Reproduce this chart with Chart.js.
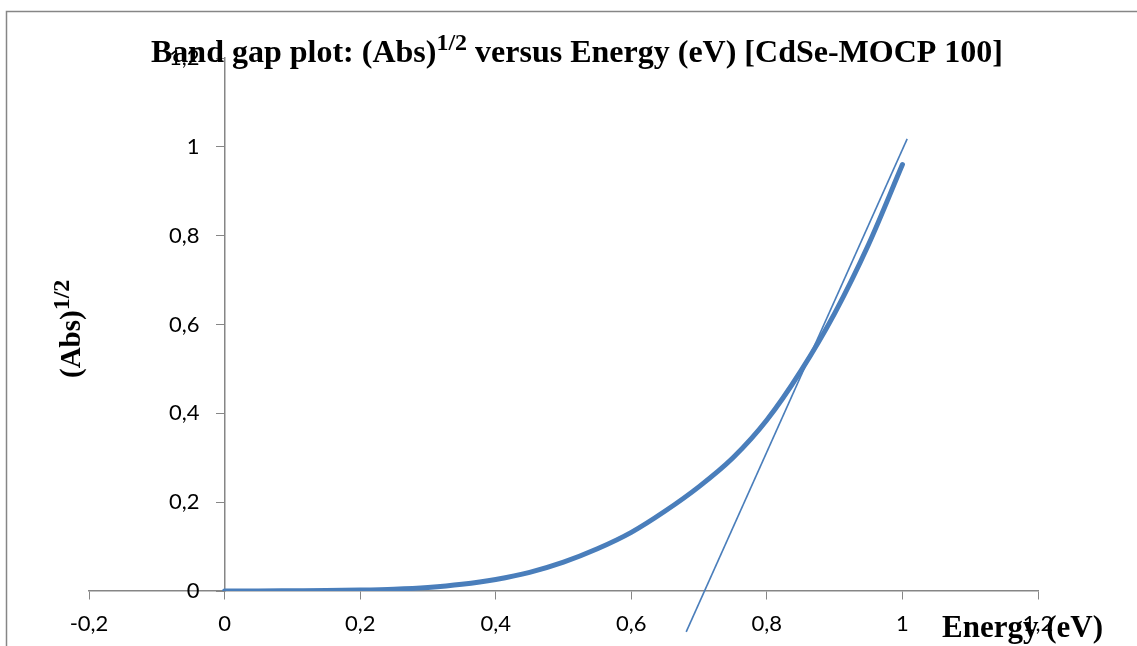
<!DOCTYPE html>
<html>
<head>
<meta charset="utf-8">
<script src="https://cdn.jsdelivr.net/npm/chart.js@4.4.1/dist/chart.umd.min.js"></script>
<style>
    html, body { margin: 0; padding: 0; background: #fff; }
    #wrap { width: 1137px; height: 646px; }
</style>
</head>
<body>
<div id="wrap"><canvas id="chart"></canvas></div>
<script>
// measured curve: (Abs)^1/2 against energy
const energy  = [0, 0.05, 0.1, 0.15, 0.2, 0.25, 0.3, 0.35, 0.4, 0.45, 0.5, 0.55, 0.6, 0.65, 0.7, 0.75, 0.8, 0.85, 0.9, 0.95, 1.0];
const absRoot = [0, 0, 0.0005, 0.001, 0.002, 0.004, 0.008, 0.015, 0.026, 0.042, 0.065, 0.095, 0.132, 0.18, 0.235, 0.30, 0.385, 0.495, 0.625, 0.78, 0.96];

// straight-line fit used to read the band gap
const fitEnergy  = [0.681, 1.007];
const fitAbsRoot = [-0.092, 1.018];

const xTicks = [-0.2, 0, 0.2, 0.4, 0.6, 0.8, 1, 1.2];
const yTicks = [0, 0.2, 0.4, 0.6, 0.8, 1, 1.2];

const blue = "#4a7ebb";
const axisGrey = "#868686";
const serif = "'Liberation Serif', 'Times New Roman', serif";
const tickFont = "22px Lato";

function fmt(v) {
    return String(Number(v.toFixed(1))).replace(".", ",");
}

// draw "pre" + superscript + "post" starting at x (already rotated if needed)
function drawSup(ctx, x, y, size, supSize, rise, pre, sup, post) {
    ctx.font = `bold ${size}px ${serif}`;
    ctx.fillText(pre, x, y);
    x += ctx.measureText(pre).width;
    ctx.font = `bold ${supSize}px ${serif}`;
    ctx.fillText(sup, x, y - rise);
    x += ctx.measureText(sup).width;
    ctx.font = `bold ${size}px ${serif}`;
    ctx.fillText(post, x, y);
}

function supWidth(ctx, size, supSize, pre, sup, post) {
    ctx.font = `bold ${size}px ${serif}`;
    let w = ctx.measureText(pre).width + ctx.measureText(post).width;
    ctx.font = `bold ${supSize}px ${serif}`;
    return w + ctx.measureText(sup).width;
}

const framePlugin = {
    id: "frame",
    beforeDraw(chart) {
        const ctx = chart.ctx;
        ctx.save();
        ctx.fillStyle = "#fff";
        ctx.fillRect(0, 0, chart.width, chart.height);
        ctx.strokeStyle = axisGrey;
        ctx.lineWidth = 1.5;
        ctx.strokeRect(6.5, 11.5, 1400, 900);
        ctx.restore();
    }
};

// y tick labels sit left of the y axis, which crosses at x = 0
const yLabelPlugin = {
    id: "yLabels",
    afterDatasetsDraw(chart) {
        const ctx = chart.ctx;
        const ys = chart.scales.y;
        const axisX = chart.scales.x.getPixelForValue(0);
        ctx.save();
        ctx.fillStyle = "#000";
        ctx.font = tickFont;
        ctx.textAlign = "right";
        ctx.textBaseline = "middle";
        yTicks.forEach(v => ctx.fillText(fmt(v), axisX - 25, ys.getPixelForValue(v)));
        ctx.restore();
    }
};

const titlePlugin = {
    id: "titles",
    afterDraw(chart) {
        const ctx = chart.ctx;
        ctx.save();
        ctx.fillStyle = "#000";
        ctx.textBaseline = "alphabetic";
        ctx.textAlign = "left";

        // main title
        const pre = "Band gap plot: (Abs)", sup = "1/2", post = " versus Energy (eV) [CdSe-MOCP 100]";
        const w = supWidth(ctx, 32, 24, pre, sup, post);
        drawSup(ctx, 577 - w / 2, 62, 32, 24, 12, pre, sup, post);

        // y axis title
        ctx.save();
        ctx.translate(80, 378);
        ctx.rotate(-Math.PI / 2);
        drawSup(ctx, 0, 0, 29, 24, 11, "(Abs)", "1/2", "");
        ctx.restore();

        // x axis title
        ctx.font = `bold 31px ${serif}`;
        ctx.fillText("Energy (eV)", 942, 637);
        ctx.restore();
    }
};

new Chart(document.getElementById("chart"), {
    type: "scatter",
    data: {
        datasets: [
            {
                data: energy.map((e, i) => ({ x: e, y: absRoot[i] })),
                showLine: true,
                borderColor: blue,
                backgroundColor: blue,
                borderWidth: 5,
                borderCapStyle: "round",
                cubicInterpolationMode: "monotone",
                pointRadius: 0
            },
            {
                data: fitEnergy.map((e, i) => ({ x: e, y: fitAbsRoot[i] })),
                showLine: true,
                borderColor: blue,
                borderWidth: 1.6,
                pointRadius: 0,
                clip: false
            }
        ]
    },
    options: {
        responsive: true,
        maintainAspectRatio: false,
        animation: false,
        layout: { padding: { left: 89, right: 99, top: 58, bottom: 55 } },
        plugins: {
            legend: { display: false },
            title: { display: false },
            tooltip: { enabled: false }
        },
        scales: {
            x: {
                type: "linear",
                position: { y: 0 },
                min: -0.2,
                max: 1.2,
                afterBuildTicks: s => { s.ticks = xTicks.map(v => ({ value: v })); },
                grid: { drawOnChartArea: false, drawTicks: true, tickLength: 8, color: axisGrey },
                border: { color: axisGrey, width: 1.5 },
                ticks: {
                    callback: v => fmt(v),
                    color: "#000",
                    padding: 12,
                    maxRotation: 0,
                    font: { family: "Lato", size: 22 }
                }
            },
            y: {
                type: "linear",
                position: { x: 0 },
                min: 0,
                max: 1.2,
                afterBuildTicks: s => { s.ticks = yTicks.map(v => ({ value: v })); },
                grid: { drawOnChartArea: false, drawTicks: true, tickLength: 8, color: axisGrey },
                border: { color: axisGrey, width: 1.5 },
                ticks: { display: false }
            }
        }
    },
    plugins: [framePlugin, yLabelPlugin, titlePlugin]
});
</script>
</body>
</html>
